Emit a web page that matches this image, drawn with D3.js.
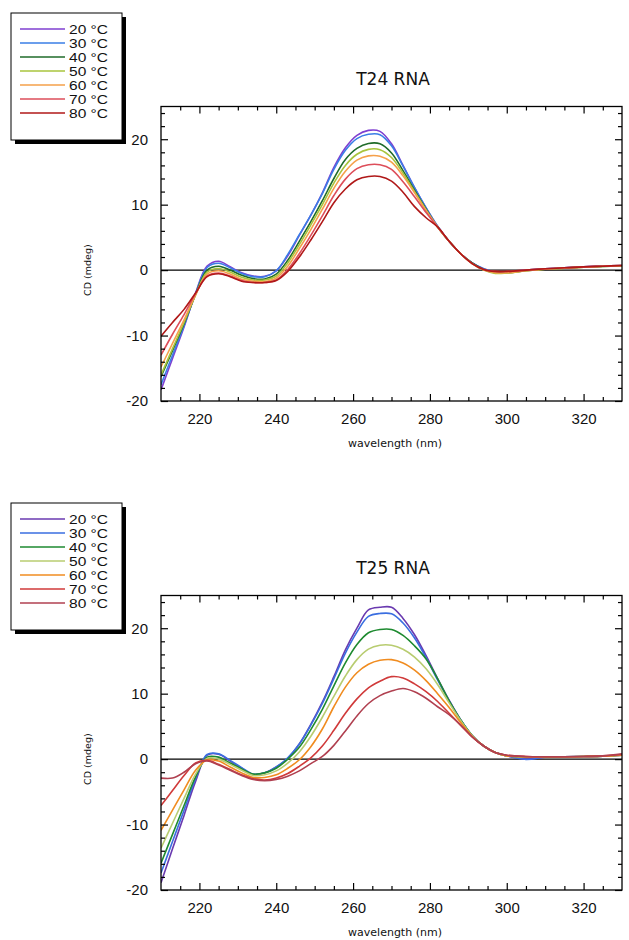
<!DOCTYPE html>
<html><head><meta charset="utf-8">
<script src="https://cdn.jsdelivr.net/npm/d3@7/dist/d3.min.js"></script>
<style>body{margin:0;background:#fff}svg{display:block}</style>
</head><body>
<svg id="c" width="629" height="940"></svg>
<script>
// ---------- data ----------
const temps = ["20 °C","30 °C","40 °C","50 °C","60 °C","70 °C","80 °C"];
const wavelengths = [210,213,216,219,222,225,228,231,234,237,240,243,246,249,252,255,258,261,264,267,270,273,276,279,282,285,288,291,294,297,300,305,310,315,320,325,330];
const xTicks = [220,240,260,280,300,320];
const yTicks = [-20,-10,0,10,20];

// T24 RNA
const t24_20 = [-18.3,-13.5,-8.7,-3.5,0.6,1.35,0.5,-0.4,-0.9,-0.95, -0.1,2.2,5.3,8.4,11.8,15.7,18.7,20.6,21.35,21.2, 19.3,16.0,12.6,9.5,6.7,4.4,2.5,1.1,0.2,-0.3, -0.3,0.0,0.2,0.35,0.5,0.6,0.7];
const t24_30 = [-17.5,-13.0,-8.5,-3.6,0.4,1.05,0.35,-0.5,-1.0,-1.0, -0.1,2.4,5.4,8.4,11.7,15.4,18.3,20.1,20.75,20.7, 19.0,15.9,12.6,9.5,6.7,4.4,2.5,1.1,0.2,-0.3, -0.3,0.0,0.2,0.35,0.5,0.6,0.7];
const t24_40 = [-16.3,-12.3,-8.2,-3.7,0.0,0.6,0.0,-0.8,-1.3,-1.35, -0.6,1.5,4.4,7.4,10.6,14.0,16.9,18.6,19.35,19.3, 17.9,15.2,12.2,9.3,6.6,4.4,2.5,1.1,0.1,-0.4, -0.4,-0.1,0.15,0.3,0.45,0.55,0.65];
const t24_50 = [-16.0,-12.0,-8.0,-3.8,-0.3,0.25,-0.3,-1.1,-1.5,-1.5, -0.9,1.1,3.9,6.9,10.0,13.3,16.0,17.7,18.45,18.4, 17.2,14.8,12.0,9.2,6.6,4.4,2.5,1.0,0.0,-0.5, -0.45,-0.1,0.15,0.3,0.45,0.55,0.65];
const t24_60 = [-14.8,-11.2,-7.6,-3.8,-0.6,-0.1,-0.6,-1.4,-1.7,-1.75, -1.2,0.6,3.3,6.2,9.3,12.5,15.1,16.8,17.45,17.4, 16.5,14.4,11.8,9.1,6.6,4.4,2.5,1.0,0.0,-0.4, -0.4,-0.1,0.15,0.3,0.45,0.6,0.7];
const t24_70 = [-13.0,-9.8,-6.8,-3.6,-0.9,-0.45,-0.9,-1.6,-1.9,-1.9, -1.5,0.1,2.5,5.3,8.3,11.4,13.9,15.5,16.1,16.1, 15.4,13.5,11.2,8.8,6.6,4.4,2.5,1.0,0.1,-0.2, -0.2,0.0,0.2,0.35,0.5,0.6,0.7];
const t24_80 = [-10.1,-8.0,-6.0,-3.5,-1.0,-0.55,-1.0,-1.7,-1.9,-1.9, -1.6,-0.2,2.0,4.6,7.4,10.3,12.4,13.8,14.3,14.3, 13.6,11.9,9.7,8.0,6.6,4.4,2.5,1.0,0.1,-0.2, -0.2,0.0,0.2,0.35,0.5,0.6,0.7];

// T25 RNA
const t25_20 = [-18.9,-13.7,-8.6,-3.4,0.6,0.75,-0.3,-1.4,-2.35,-2.1, -1.2,0.1,2.3,5.3,8.7,12.6,16.7,20.0,22.8,23.2, 23.2,21.5,19.0,15.8,12.3,9.0,6.0,3.6,2.0,1.0, 0.5,0.0,0.3,0.35,0.4,0.45,0.6];
const t25_30 = [-17.4,-12.6,-7.8,-3.0,0.7,0.8,-0.2,-1.3,-2.3,-2.1, -1.2,0.2,2.3,5.2,8.5,12.3,16.2,19.4,21.8,22.25, 22.2,20.8,18.5,15.5,12.1,8.9,6.0,3.6,2.0,1.0, 0.5,-0.05,0.3,0.35,0.4,0.45,0.6];
const t25_40 = [-15.9,-11.5,-7.1,-2.7,0.3,0.3,-0.6,-1.5,-2.3,-2.1, -1.4,0.0,1.8,4.5,7.6,11.2,14.7,17.5,19.3,19.8, 19.8,18.9,17.3,15.3,12.3,8.9,6.0,3.6,2.0,1.0, 0.5,0.3,0.3,0.35,0.4,0.45,0.6];
const t25_50 = [-13.6,-9.8,-6.0,-2.3,0.1,0.0,-0.8,-1.7,-2.5,-2.4, -1.8,-0.6,1.1,3.5,6.4,9.6,12.7,15.2,16.8,17.4, 17.4,16.8,15.6,13.8,11.4,8.6,5.9,3.6,2.0,1.0, 0.5,0.35,0.35,0.35,0.4,0.45,0.6];
const t25_60 = [-10.9,-7.8,-4.7,-1.7,-0.1,-0.3,-1.2,-2.1,-2.8,-2.8, -2.4,-1.4,-0.1,1.9,4.6,8.0,11.0,13.2,14.5,15.1, 15.2,14.7,13.6,12.0,10.0,7.9,5.6,3.5,2.0,1.0, 0.5,0.35,0.35,0.35,0.4,0.45,0.6];
const t25_70 = [-7.1,-4.8,-2.5,-0.6,-0.2,-0.8,-1.6,-2.4,-3.0,-3.2, -2.9,-2.2,-1.1,0.2,2.0,4.4,7.0,9.2,10.9,11.9, 12.6,12.4,11.5,10.3,8.8,7.0,5.2,3.4,2.0,1.0, 0.6,0.4,0.35,0.35,0.4,0.5,0.7];
const t25_80 = [-2.9,-2.9,-2.0,-0.7,-0.3,-0.9,-1.7,-2.5,-3.1,-3.3, -3.1,-2.6,-1.8,-0.7,0.4,2.1,4.3,6.6,8.5,9.7, 10.4,10.8,10.3,9.3,8.0,6.8,5.2,3.4,2.0,1.0, 0.6,0.4,0.35,0.35,0.4,0.5,0.8];

const colorsTop = ["#7f3fd0","#3a7ee6","#1f6b2a","#a8c43c","#f5a04a","#dd4e5a","#b01818"];
const colorsBottom = ["#6a3ab0","#3a6ee0","#1e8a30","#b8cc70","#f08c20","#d03a3a","#b04050"];

const panels = [
  {title:"T24 RNA", series:[t24_20,t24_30,t24_40,t24_50,t24_60,t24_70,t24_80], colors:colorsTop, top:106.5, legendTop:13},
  {title:"T25 RNA", series:[t25_20,t25_30,t25_40,t25_50,t25_60,t25_70,t25_80], colors:colorsBottom, top:595.5, legendTop:503}
];

// ---------- drawing ----------
const svg = d3.select("#c");
const L = 161, R = 622, H = 294.5;
const fmt = d => String(d);

panels.forEach((p, pi) => {
  const T = p.top, B = T + H;
  const x = d3.scaleLinear().domain([210,330]).range([L,R]);
  const y = d3.scaleLinear().domain([-20,25]).range([B,T]);
  const g = svg.append("g");

  const clipId = "clip"+pi;
  svg.append("clipPath").attr("id",clipId).append("rect").attr("x",L).attr("y",T).attr("width",R-L).attr("height",H);

  // zero line
  g.append("line").attr("x1",L).attr("x2",R).attr("y1",y(0)).attr("y2",y(0)).attr("stroke","#000").attr("stroke-width",1.2);

  // curves
  const line = d3.line().x((d,i)=>x(wavelengths[i])).y(d=>y(d)).curve(d3.curveCatmullRom.alpha(0.5));
  const cg = g.append("g").attr("clip-path",`url(#${clipId})`);
  p.series.forEach((s,i)=>{
    cg.append("path").datum(s).attr("d",line).attr("fill","none").attr("stroke",p.colors[i]).attr("stroke-width",1.6).attr("stroke-linejoin","round");
  });

  // frame
  g.append("rect").attr("x",L).attr("y",T).attr("width",R-L).attr("height",H).attr("fill","none").attr("stroke","#000").attr("stroke-width",1.3);

  const fontTick = "'Liberation Sans', Arial, sans-serif";
  // axes (inward ticks)
  const xMinor = d3.range(215,330,5).filter(v=>v%20!==0);
  const yMinor = d3.range(-18,25,2).filter(v=>v%10!==0);
  const axB = g.append("g").attr("transform",`translate(0,${B})`)
    .call(d3.axisBottom(x).tickValues(xTicks).tickSize(-7).tickPadding(12).tickFormat(fmt));
  axB.append("g").call(d3.axisBottom(x).tickValues(xMinor).tickSize(-4).tickFormat(""));
  const axT = g.append("g").attr("transform",`translate(0,${T})`)
    .call(d3.axisTop(x).tickValues(xTicks).tickSize(-7).tickFormat(""));
  axT.append("g").call(d3.axisTop(x).tickValues(xMinor).tickSize(-4).tickFormat(""));
  const axL = g.append("g").attr("transform",`translate(${L},0)`)
    .call(d3.axisLeft(y).tickValues(yTicks).tickSize(-7).tickPadding(13).tickFormat(fmt));
  axL.append("g").call(d3.axisLeft(y).tickValues(yMinor).tickSize(-4).tickFormat(""));
  const axR = g.append("g").attr("transform",`translate(${R},0)`)
    .call(d3.axisRight(y).tickValues(yTicks).tickSize(-7).tickFormat(""));
  axR.append("g").call(d3.axisRight(y).tickValues(yMinor).tickSize(-4).tickFormat(""));
  [axB,axT,axL,axR].forEach(a=>{
    a.selectAll(".domain").remove();
    a.selectAll("line").attr("stroke","#000").attr("stroke-width",1.2);
    a.selectAll("text").attr("font-family",fontTick).attr("font-size","15px").attr("fill","#111");
  });

  // labels
  g.append("text").attr("x",395).attr("y",B+46).attr("text-anchor","middle")
    .attr("font-family","'DejaVu Sans', sans-serif").attr("font-size","11px").attr("fill","#111").text("wavelength (nm)");
  g.append("text").attr("transform",`translate(91,${y(0)}) rotate(-90)`).attr("text-anchor","middle")
    .attr("font-family","'DejaVu Sans', sans-serif").attr("font-size","9.5px").attr("fill","#111").text("CD (mdeg)");
  g.append("text").attr("x",393).attr("y",T-22).attr("text-anchor","middle")
    .attr("font-family","'DejaVu Sans', sans-serif").attr("font-size","17px").attr("fill","#111").text(p.title);

  // legend
  const lx = 11, ly = p.legendTop, lw = 111, lh = 127;
  const lg = svg.append("g");
  lg.append("rect").attr("x",lx+4).attr("y",ly+4).attr("width",lw).attr("height",lh).attr("fill","#000");
  lg.append("rect").attr("x",lx).attr("y",ly).attr("width",lw).attr("height",lh).attr("fill","#fff").attr("stroke","#000").attr("stroke-width",1);
  temps.forEach((t,i)=>{
    const yy = ly + 16 + i*14;
    lg.append("line").attr("x1",20).attr("x2",65).attr("y1",yy).attr("y2",yy).attr("stroke",p.colors[i]).attr("stroke-width",1.6);
    lg.append("text").attr("x",69).attr("y",yy+4.5).attr("font-family",fontTick).attr("font-size","12px")
      .attr("textLength",39).attr("lengthAdjust","spacingAndGlyphs").attr("fill","#111").text(t);
  });
});
</script>
</body></html>
